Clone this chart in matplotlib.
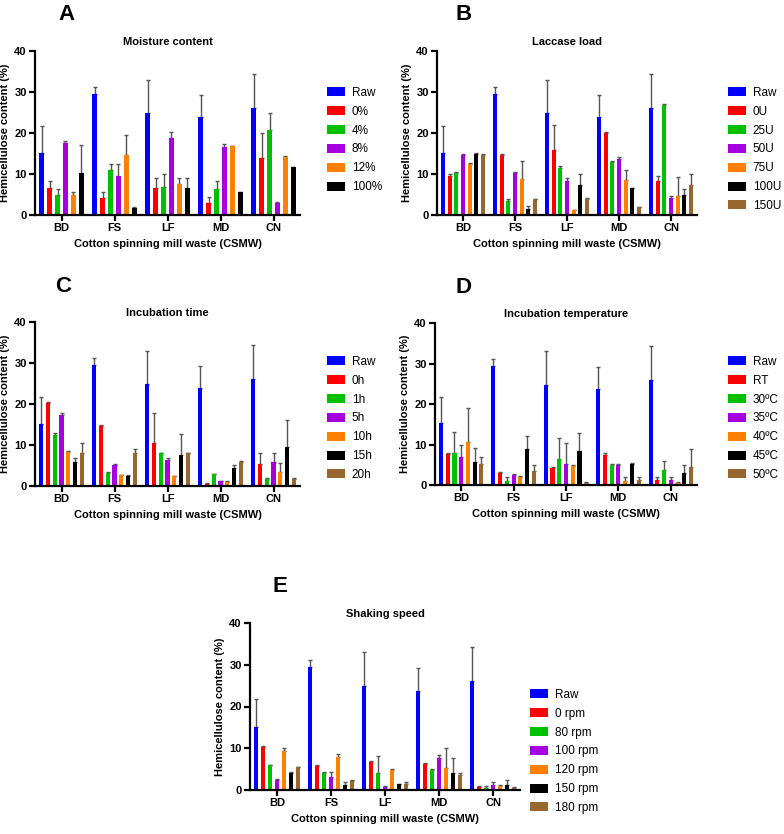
import matplotlib
matplotlib.use("Agg")
import matplotlib.pyplot as plt
import numpy as np

plt.rcParams['font.family'] = ['Liberation Sans', 'DejaVu Sans']

groups = ['BD', 'FS', 'LF', 'MD', 'CN']
colors = ['#0000FF', '#FF0000', '#00C000', '#A600E0', '#FF8000', '#000000', '#9A6630']

# raw (untreated) values, shared by all panels
raw = [15.2, 29.5, 24.8, 23.8, 26.0]
raw_top = [21.7, 31.2, 33.0, 29.2, 34.3]

# A - moisture content
moist_labels = ['Raw', '0%', '4%', '8%', '12%', '100%']
moist_vals = [[6.7, 4.2, 6.5, 3.0, 13.8],
              [5.0, 11.0, 6.9, 6.3, 20.7],
              [17.6, 9.5, 18.8, 16.7, 2.9],
              [4.8, 14.7, 7.6, 16.8, 14.2],
              [10.2, 1.7, 6.5, 5.5, 11.6]]
moist_tops = [[8.4, 5.5, 9.1, 4.4, 20.0],
              [6.3, 12.4, 9.9, 8.4, 24.9],
              [18.0, 12.4, 20.3, 17.3, 3.2],
              [5.5, 19.5, 9.1, 16.9, 14.5],
              [17.1, 2.0, 9.1, 5.7, 11.8]]

# B - laccase load
lac_labels = ['Raw', '0U', '25U', '50U', '75U', '100U', '150U']
lac_vals = [[9.6, 14.6, 15.9, 20.1, 8.3],
            [10.2, 3.4, 11.4, 13.0, 26.8],
            [14.7, 10.2, 8.4, 13.6, 4.2],
            [12.4, 8.8, 1.1, 8.6, 4.6],
            [15.0, 1.5, 7.3, 6.5, 4.9],
            [14.7, 3.8, 3.8, 1.9, 7.3]]
lac_tops = [[10.0, 15.0, 22.0, 20.3, 9.6],
            [10.4, 3.8, 11.9, 13.2, 27.0],
            [15.0, 10.5, 9.0, 14.1, 4.6],
            [12.7, 13.1, 1.2, 11.0, 9.2],
            [15.2, 2.3, 10.0, 6.7, 6.3],
            [15.0, 3.9, 4.1, 2.0, 10.0]]

# C - incubation time
time_labels = ['Raw', '0h', '1h', '5h', '10h', '15h', '20h']
time_vals = [[20.2, 14.7, 10.6, 0.6, 5.4],
             [12.4, 3.1, 8.1, 2.9, 1.7],
             [17.3, 5.1, 6.3, 1.1, 5.9],
             [8.2, 2.6, 2.4, 1.0, 3.4],
             [5.9, 2.4, 7.5, 4.5, 9.4],
             [8.0, 8.0, 8.0, 5.9, 1.7]]
time_tops = [[20.5, 14.9, 17.9, 0.7, 8.0],
             [13.0, 3.5, 8.1, 3.0, 2.0],
             [17.7, 5.3, 6.9, 1.3, 8.1],
             [8.6, 2.7, 2.5, 1.2, 5.5],
             [6.8, 2.6, 12.7, 5.1, 16.1],
             [10.4, 9.0, 8.1, 6.1, 1.9]]

# D - incubation temperature
temp_labels = ['Raw', 'RT', '30ºC', '35ºC', '40ºC', '45ºC', '50ºC']
temp_vals = [[7.7, 3.0, 4.1, 7.3, 1.3],
             [8.0, 1.1, 6.3, 5.0, 3.7],
             [6.9, 2.5, 5.3, 5.0, 1.3],
             [10.6, 2.0, 4.6, 1.0, 0.6],
             [5.6, 9.0, 8.4, 5.3, 3.0],
             [5.1, 3.5, 0.6, 1.2, 4.5]]
temp_tops = [[8.0, 3.1, 4.4, 8.0, 2.0],
             [13.0, 2.0, 11.6, 5.1, 6.0],
             [9.9, 2.7, 10.4, 5.1, 2.0],
             [19.0, 2.2, 5.0, 2.0, 0.7],
             [9.2, 12.0, 12.9, 5.5, 5.0],
             [6.9, 5.0, 0.7, 2.0, 8.9]]

# E - shaking speed
shake_labels = ['Raw', '0 rpm', '80 rpm', '100 rpm', '120 rpm', '150 rpm', '180 rpm']
shake_vals = [[10.3, 5.8, 6.7, 6.2, 0.8],
              [5.9, 4.1, 4.1, 4.9, 0.5],
              [2.4, 3.0, 0.8, 7.7, 1.3],
              [9.4, 8.0, 4.9, 5.3, 1.0],
              [4.1, 1.2, 1.4, 4.1, 1.3],
              [5.4, 2.2, 1.4, 3.5, 0.5]]
shake_tops = [[10.5, 6.0, 6.9, 6.5, 0.9],
              [6.0, 4.2, 8.2, 5.0, 1.0],
              [2.6, 4.4, 0.9, 8.3, 2.0],
              [10.0, 8.6, 5.0, 10.0, 1.2],
              [4.3, 2.0, 1.5, 7.6, 2.3],
              [5.5, 2.4, 2.0, 4.0, 0.8]]

W, H = 784, 834
fig = plt.figure(figsize=(W / 100, H / 100), dpi=100)


def panel(left, top, right, bottom, title, letter, letter_x, labels, vals, tops, leg_x, leg_y):
    ax = fig.add_axes([left / W, 1 - bottom / H, (right - left) / W, (bottom - top) / H])
    series = [raw] + vals
    series_tops = [raw_top] + tops
    n = len(series)
    step = 0.9 / n
    width = step * 0.62
    ind = np.arange(len(groups))
    handles = []
    for i in range(n):
        x = ind - 0.45 + step * (i + 0.5)
        v = np.array(series[i])
        e = np.clip(np.array(series_tops[i]) - v, 0, None)
        b = ax.bar(x, v, width, color=colors[i], zorder=2)
        ax.errorbar(x, v, yerr=[np.zeros_like(e), e], fmt='none', ecolor='#555555',
                    elinewidth=1, capsize=1.5, capthick=1, zorder=1)
        handles.append(b)
    ax.set_xlim(-0.5, 4.5)
    ax.set_ylim(0, 40)
    ax.set_yticks([0, 10, 20, 30, 40])
    ax.set_xticks(ind)
    ax.set_xticklabels(groups)
    for s in ['top', 'right']:
        ax.spines[s].set_visible(False)
    for s in ['left', 'bottom']:
        ax.spines[s].set_linewidth(1.6)
    ax.tick_params(direction='out', length=4, width=1.6, labelsize=8, pad=2)
    for t in ax.get_xticklabels() + ax.get_yticklabels():
        t.set_fontweight('bold')
    ax.set_ylabel('Hemicellulose content (%)', fontsize=8, fontweight='bold', labelpad=3)
    ax.set_xlabel('Cotton spinning mill waste (CSMW)', fontsize=8, fontweight='bold', labelpad=4)
    ax.set_title(title, fontsize=8, fontweight='bold', pad=4)
    fig.text(letter_x / W, 1 - (top - 36) / H, letter, fontsize=16, fontweight='bold',
             ha='left', va='center')
    fig.legend(handles, labels, loc='upper left', bbox_to_anchor=(leg_x / W, 1 - leg_y / H),
               frameon=False, fontsize=8.5, handlelength=1.5, handleheight=0.8,
               labelspacing=0.58, borderpad=0, handletextpad=0.6)
    return ax


panel(35, 51, 300, 215, 'Moisture content', 'A', 58, moist_labels, moist_vals, moist_tops, 321, 81)
panel(437, 51, 697, 215, 'Laccase load', 'B', 455, lac_labels, lac_vals, lac_tops, 722, 81)
panel(35, 322, 300, 486, 'Incubation time', 'C', 55, time_labels, time_vals, time_tops, 321, 350)
panel(435, 323, 697, 485, 'Incubation temperature', 'D', 455, temp_labels, temp_vals, temp_tops, 722, 350)
panel(250, 623, 520, 790, 'Shaking speed', 'E', 273, shake_labels, shake_vals, shake_tops, 524, 683)

fig.savefig('out.png', dpi=100)
